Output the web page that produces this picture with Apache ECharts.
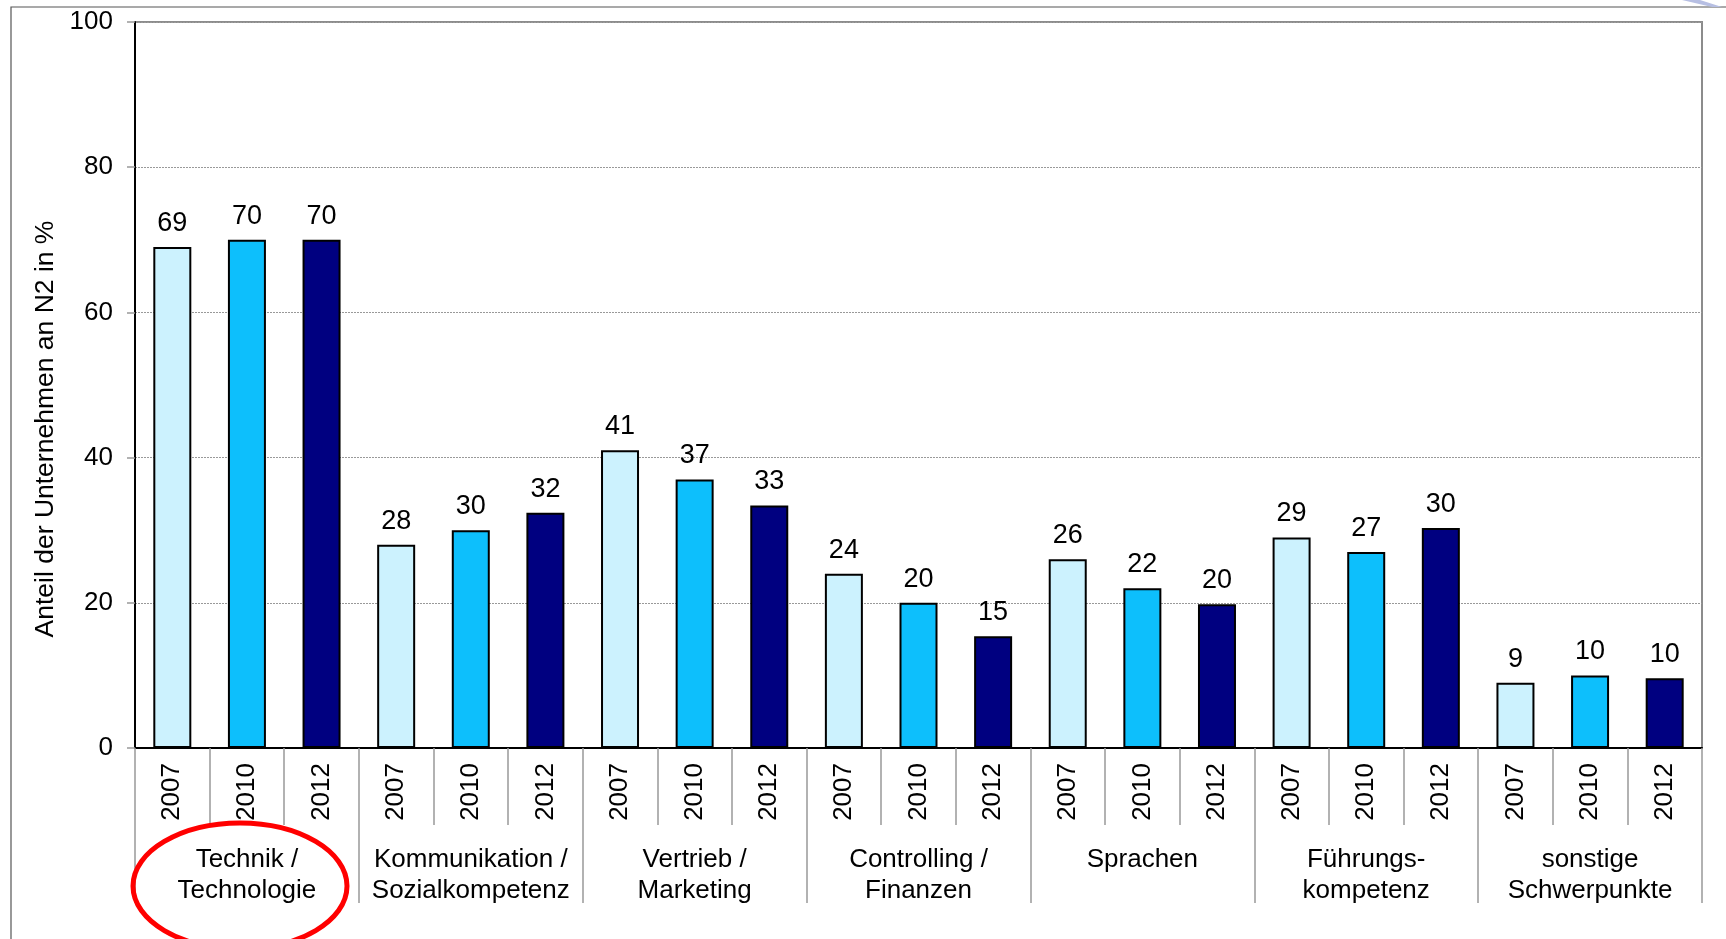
<!DOCTYPE html>
<html>
<head>
<meta charset="utf-8">
<title>Weiterbildungsschwerpunkte</title>
<script src="https://cdn.jsdelivr.net/npm/echarts@6/dist/echarts.min.js"></script>
<style>
  html, body { margin: 0; padding: 0; background: #fff; }
  #chart { width: 1726px; height: 939px; }
</style>
</head>
<body>
<div id="chart"></div>
<script>
// Themen (Gruppen) und Jahre
var groups = ['Technik /\nTechnologie', 'Kommunikation /\nSozialkompetenz', 'Vertrieb /\nMarketing',
  'Controlling /\nFinanzen', 'Sprachen', 'Führungs-\nkompetenz', 'sonstige\nSchwerpunkte'];
var years = ['2007', '2010', '2012'];

// Anteil in % je Jahr
var values2007 = [69, 28, 41, 24, 26, 29, 9];
var values2010 = [70, 30, 37, 20, 22, 27, 10];
var values2012 = [70, 32.4, 33.4, 15.4, 19.8, 30.3, 9.6];

var yTicks = [0, 20, 40, 60, 80, 100];

var yearColors = ['#CCF2FE', '#0DBFFC', '#000080'];
var font = '"Liberation Sans", Arial, sans-serif';

var chart = echarts.init(document.getElementById('chart'));

// 21 Balken: je Gruppe 3 Jahre
var yearLabels = [];
var barData = [];
var allValues = [values2007, values2010, values2012];
for (var i = 0; i < groups.length; i++) {
  for (var j = 0; j < years.length; j++) {
    yearLabels.push(years[j]);
    barData.push({ value: allValues[j][i], itemStyle: { color: yearColors[j] } });
  }
}

chart.setOption({
  animation: false,
  textStyle: { fontFamily: font },
  grid: {
    left: 135, top: 22, right: 24, bottom: 191,
    show: true, borderColor: '#8c8c8c', borderWidth: 2, backgroundColor: '#fff'
  },
  graphic: [
    { // äußerer Rahmen
      type: 'rect', silent: true, z: -1,
      shape: { x: 11, y: 7, width: 1800, height: 1000 },
      style: { fill: 'none', stroke: '#555', lineWidth: 1.2 }
    },
    { // Reststück Logo oben rechts
      type: 'polygon', silent: true,
      shape: { points: [[1682, 0], [1700, 0], [1722, 7], [1712, 7]] },
      style: { fill: '#b7bfe3' }
    },
    {
      type: 'text', silent: true,
      x: 46, y: 429, rotation: Math.PI / 2,
      style: {
        text: 'Anteil der Unternehmen an N2 in %',
        fontSize: 26.5, fontFamily: font, fill: '#000',
        align: 'center', verticalAlign: 'middle'
      }
    },
    { // Markierung
      type: 'ellipse', silent: true, z: 100,
      shape: { cx: 240, cy: 886, rx: 107, ry: 63 },
      style: { fill: 'none', stroke: '#FF0000', lineWidth: 5 }
    }
  ],
  xAxis: [
    {
      type: 'category',
      data: yearLabels,
      axisLine: { lineStyle: { color: '#000', width: 2 } },
      axisTick: { show: true, interval: 0, length: 77, lineStyle: { color: '#999', width: 1.5 } },
      axisLabel: { interval: 0, rotate: 90, margin: 15, fontSize: 26, color: '#000', fontFamily: font },
      splitLine: { show: false }
    },
    {
      type: 'category',
      data: groups,
      position: 'bottom',
      axisLine: { show: false },
      axisTick: { show: true, interval: 0, length: 155, lineStyle: { color: '#999', width: 1.5 } },
      axisLabel: { interval: 0, margin: 96, fontSize: 26, lineHeight: 31, color: '#000', fontFamily: font },
      splitLine: { show: false }
    }
  ],
  yAxis: {
    type: 'value',
    min: yTicks[0],
    max: yTicks[yTicks.length - 1],
    interval: 20,
    axisLine: { show: true, lineStyle: { color: '#000', width: 2 } },
    axisTick: { show: true, length: 8, lineStyle: { color: '#999', width: 1.5 } },
    axisLabel: { margin: 22, fontSize: 26, color: '#000', fontFamily: font },
    splitLine: { show: true, lineStyle: { color: '#999', type: [2, 1], width: 1 } }
  },
  series: [{
    type: 'bar',
    xAxisIndex: 0,
    data: barData,
    barWidth: 38,
    itemStyle: { borderColor: '#000', borderWidth: 2 },
    label: {
      show: true, position: 'top', distance: 10,
      fontSize: 27, color: '#000', fontFamily: font,
      formatter: function (p) { return Math.round(p.value); }
    }
  }]
});
</script>
</body>
</html>
